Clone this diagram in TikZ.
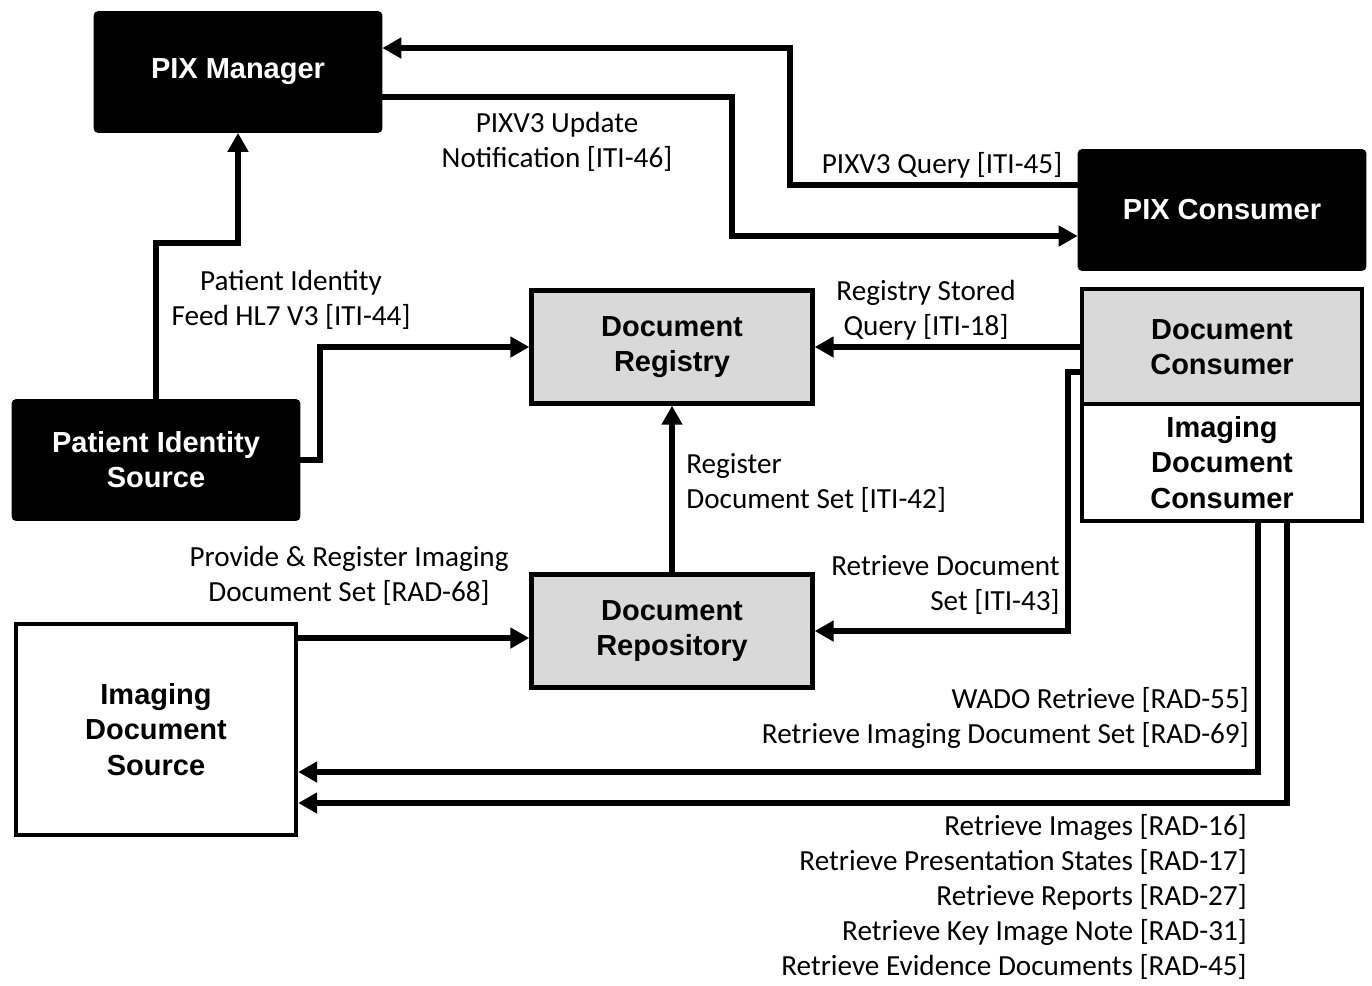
\documentclass[tikz,border=0pt]{standalone}
\usepackage{fontspec}
\usetikzlibrary{arrows.meta}
\newfontfamily\boxfont{Liberation Sans}
\newfontfamily\labelfont{Carlito}
\definecolor{boxgray}{HTML}{D9D9D9}

\begin{document}
\begin{tikzpicture}[x=0.02cm, y=-0.02cm,
    actor/.style = {draw, fill=black, text=white, rounded corners=2pt, line width=1pt,
        minimum width=5.74cm, minimum height=2.4cm, align=center, inner sep=0pt,
        font=\boxfont\bfseries\fontsize{16.5}{20}\selectfont},
    grayactor/.style = {draw, fill=boxgray, line width=2.5pt, minimum width=5.62cm,
        minimum height=2.26cm, align=center, inner sep=0pt,
        font=\boxfont\bfseries\fontsize{16.5}{20}\selectfont},
    whiteactor/.style = {grayactor, fill=white},
    txn/.style = {font=\labelfont\fontsize{16.6}{20}\selectfont, inner sep=0pt},
    flow/.style = {line width=3pt, -{Triangle[length=3.8mm, width=4mm]}}]

    \useasboundingbox (0,0) rectangle (1372,985);

    % Actors at the top
    \node[actor] (pixmgr) at (238,72) {PIX Manager};
    \node[actor] (pixcons) at (1222,210) {PIX Consumer};
    \node[actor] (pis) at (156,460) {Patient Identity\\Source};

    % Document sharing actors
    \node[grayactor] (docreg) at (672,347) {Document\\Registry};
    \node[grayactor] (docrep) at (672,631) {Document\\Repository};
    \node[grayactor, minimum width=5.6cm, minimum height=2.32cm] (doccons) at (1222,347) {Document\\Consumer};
    \node[whiteactor, minimum width=5.6cm, minimum height=2.34cm] (imgcons) at (1222,462.5) {Imaging\\Document\\Consumer};
    \node[whiteactor, minimum width=5.6cm, minimum height=4.22cm] (imgsrc) at (156,729.5) {Imaging\\Document\\Source};

    % Arrows
    \draw[flow] (pixcons.west |- 0,185) -- (790,185) -- (790,48) -- (pixmgr.east |- 0,48);
    \draw[flow] (pixmgr.east |- 0,97) -- (732,97) -- (732,236) -- (pixcons.west |- 0,236);
    \draw[flow] (pis.north) -- (pis.north |- 0,243) -- (pixmgr.south |- 0,243) -- (pixmgr.south);
    \draw[flow] (pis.east) -| (320,347) -- (docreg.west);
    \draw[flow] (doccons.west) -- (docreg.east);
    \draw[flow] (docrep.north) -- (docreg.south);
    \draw[flow] (doccons.west |- 0,372) -| (1068,631) -- (docrep.east);
    \draw[flow] (imgsrc.east |- 0,638) -- (docrep.west |- 0,638);
    \draw[flow] (imgcons.south -| 1258,0) |- (imgsrc.east |- 0,772);
    \draw[flow] (imgcons.south -| 1287,0) |- (imgsrc.east |- 0,803);

    % Transaction labels
    \node[txn, align=center] (t46) at (557,142) {PIXV3 Update\\Notification [ITI-46]};
    \node[txn] (t45) at (942,165) {PIXV3 Query [ITI-45]};
    \node[txn, align=center] (t44) at (291,300) {Patient Identity\\Feed HL7 V3 [ITI-44]};
    \node[txn, align=center] (t18) at (926,310) {Registry Stored\\Query [ITI-18]};
    \node[txn, align=left, anchor=west] (t42) at (686,483) {Register\\Document Set [ITI-42]};
    \node[txn, align=right, anchor=east] (t43) at (1060,585) {Retrieve Document\\Set [ITI-43]};
    \node[txn, align=center] (t68) at (349,576) {Provide \& Register Imaging\\Document Set [RAD-68]};
    \node[txn, align=right, anchor=east] (t69) at (1249,718) {WADO Retrieve [RAD-55]\\Retrieve Imaging Document Set [RAD-69]};
    \node[txn, align=right, anchor=east] (t16) at (1247,897) {Retrieve Images [RAD-16]\\Retrieve Presentation States [RAD-17]\\Retrieve Reports [RAD-27]\\Retrieve Key Image Note [RAD-31]\\Retrieve Evidence Documents [RAD-45]};

\end{tikzpicture}
\end{document}
